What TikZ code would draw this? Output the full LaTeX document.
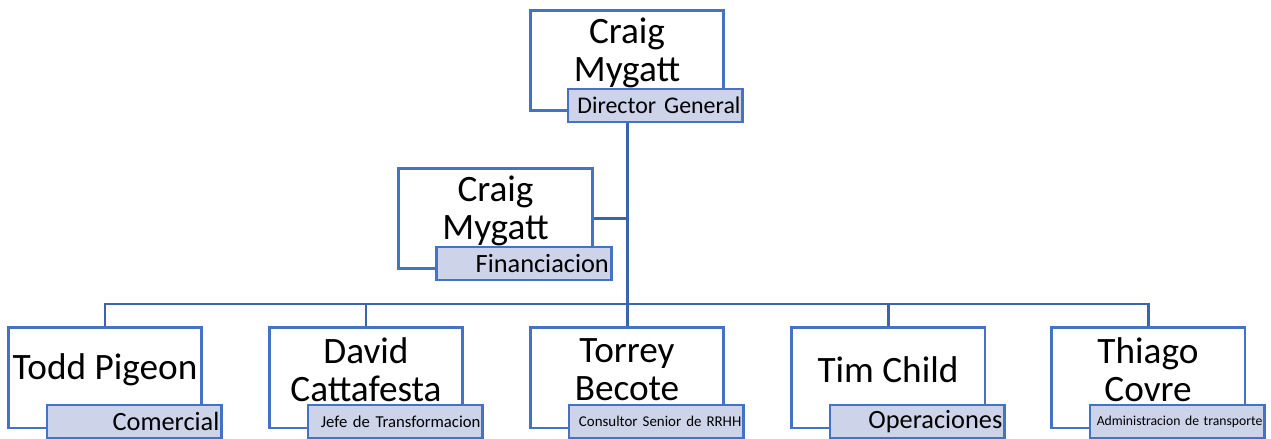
\documentclass[tikz,border=0pt]{standalone}
\usepackage{fontspec}
\setmainfont{Carlito}
\usetikzlibrary{positioning,backgrounds}
\definecolor{boxblue}{HTML}{4472C4}
\definecolor{linkblue}{HTML}{3B64AE}
\definecolor{rolefill}{HTML}{CDD4EA}
\tikzset{
  person/.style={draw=boxblue, line width=1.7pt, fill=white, minimum width=3.88cm, minimum height=2.02cm, inner sep=0pt},
  nametext/.style={align=center, font=\fontsize{21.2}{21.6}\selectfont, inner sep=0pt},
  role/.style={draw=boxblue, line width=1.6pt, fill=rolefill, minimum width=3.5cm, minimum height=0.66cm, text width=3.4cm, align=right, inner xsep=0.05cm, inner ysep=0pt, anchor=south west},
  conn/.style={draw=linkblue, line width=1.7pt}
}

\begin{document}
\begin{tikzpicture}[x=0.02cm,y=-0.02cm]
    \useasboundingbox (0,0) rectangle (1271,439);

    % director
    \node[person] (dir) at (627,60.5) {};
    \node[nametext] (dirname) at (627,53) {Craig\\Mygatt};
    \node[role, font=\fontsize{13.6}{15}\selectfont] (dirrole) at ([xshift=0.76cm,yshift=-0.22cm]dir.south west) {Director General};

    % assistant
    \node[person] (fin) at (495.5,218.5) {};
    \node[nametext] (finname) at (495.5,211) {Craig\\Mygatt};
    \node[role, font=\fontsize{15}{17}\selectfont] (finrole) at ([xshift=0.76cm,yshift=-0.22cm]fin.south west) {Financiacion};

    % departments
    \node[person] (todd) at (105,377.5) {};
    \node[nametext] (toddname) at (105,370) {Todd Pigeon};
    \node[role, font=\fontsize{15}{17}\selectfont] (toddrole) at ([xshift=0.78cm,yshift=-0.2cm]todd.south west) {Comercial};

    \node[person] (david) at (366,377.5) {};
    \node[nametext] (davidname) at (366,370) {David\\Cattafesta};
    \node[role, font=\fontsize{9.5}{11}\selectfont] (davidrole) at ([xshift=0.78cm,yshift=-0.2cm]david.south west) {Jefe de Transformacion};

    \node[person] (torrey) at (627,377.5) {};
    \node[nametext] (torreyname) at (627,370) {Torrey\\Becote};
    \node[role, font=\fontsize{8.5}{10}\selectfont] (torreyrole) at ([xshift=0.78cm,yshift=-0.2cm]torrey.south west) {Consultor Senior de RRHH};

    \node[person] (tim) at (888,377.5) {};
    \node[nametext] (timname) at (888,370) {Tim Child};
    \node[role, font=\fontsize{15}{17}\selectfont] (timrole) at ([xshift=0.78cm,yshift=-0.2cm]tim.south west) {Operaciones};

    \node[person] (thiago) at (1148,377.5) {};
    \node[nametext] (thiagoname) at (1148,370) {Thiago\\Covre};
    \node[role, font=\fontsize{7.8}{9}\selectfont] (thiagorole) at ([xshift=0.78cm,yshift=-0.2cm]thiago.south west) {Administracion de transporte};

    \begin{scope}[on background layer]
    \coordinate (bus) at (627,304);
    \draw[conn] (dir.south) -- (bus);
    \draw[conn] (fin.east) -- (fin.east -| dir.south);
    \draw[conn] (todd.north) |- (bus) -| (thiago.north);
    \draw[conn] (david.north) -- (david.north |- bus);
    \draw[conn] (torrey.north) -- (torrey.north |- bus);
    \draw[conn] (tim.north) -- (tim.north |- bus);
    \end{scope}
  \end{tikzpicture}
\end{document}
